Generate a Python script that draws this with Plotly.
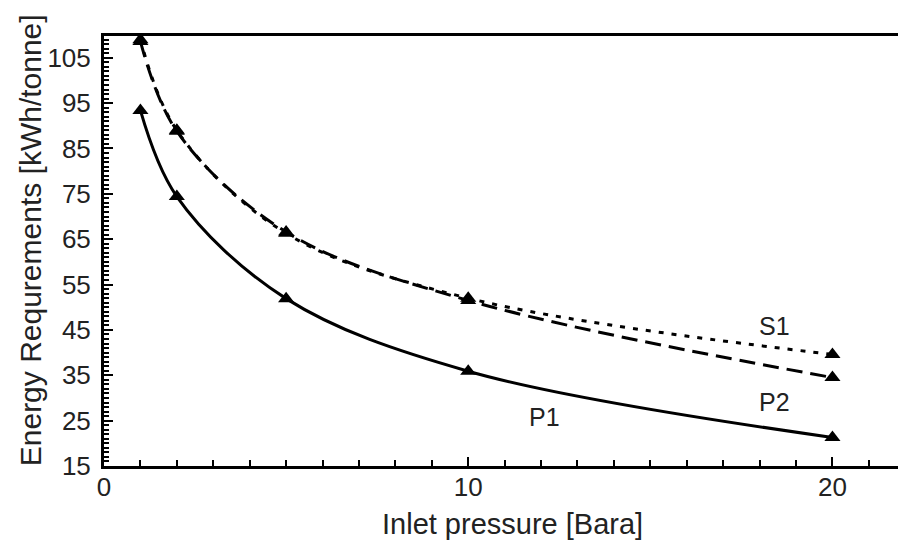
import plotly.graph_objects as go

pressure = [1, 2, 5, 10, 20]
s1 = [109.0, 89.0, 66.3, 52.0, 39.6]
p2 = [108.6, 88.8, 66.6, 51.5, 34.5]
p1 = [93.4, 74.4, 51.9, 35.9, 21.3]

labels = ["S1", "P2", "P1"]
label_x = [18.4, 18.4, 12.1]
label_y = [45.8, 29.2, 25.7]

x_title = "Inlet pressure [Bara]"
y_title = "Energy Requrements [kWh/tonne]"

font_family = "Liberation Sans, Arial, Helvetica, sans-serif"
txt = "#222222"

fig = go.Figure()
fig.add_trace(go.Scatter(x=pressure, y=s1, mode="lines+markers", name="S1",
                         line=dict(color="black", width=3, shape="spline", smoothing=1.0, dash="5px,8px"),
                         marker=dict(symbol="triangle-up", size=14, color="black")))
fig.add_trace(go.Scatter(x=pressure, y=p2, mode="lines+markers", name="P2",
                         line=dict(color="black", width=3, shape="spline", smoothing=1.0, dash="16px,8px"),
                         marker=dict(symbol="triangle-up", size=14, color="black")))
fig.add_trace(go.Scatter(x=pressure, y=p1, mode="lines+markers", name="P1",
                         line=dict(color="black", width=3, shape="spline", smoothing=1.0),
                         marker=dict(symbol="triangle-up", size=14, color="black")))

for t, x, y in zip(labels, label_x, label_y):
    fig.add_annotation(x=x, y=y, text=t, showarrow=False,
                       font=dict(size=25, color=txt, family=font_family))

# axis titles placed as annotations (relative to the plot area)
fig.add_annotation(xref="paper", yref="paper", x=0.515, y=0, yshift=-58,
                   xanchor="center", yanchor="middle", showarrow=False,
                   text=x_title, font=dict(size=29, color=txt, family=font_family))
fig.add_annotation(xref="paper", yref="paper", x=0, xshift=-74, y=0.525,
                   xanchor="center", yanchor="middle", showarrow=False, textangle=-90,
                   text=y_title, font=dict(size=30, color=txt, family=font_family))

fig.update_layout(
    width=898, height=543,
    margin=dict(l=104, r=0, t=36, b=77),
    paper_bgcolor="white", plot_bgcolor="white",
    showlegend=False,
    font=dict(family=font_family, color=txt, size=24),
)
fig.update_xaxes(
    range=[0, 21.8], showgrid=False, zeroline=False,
    showline=True, linewidth=3, linecolor="black", mirror=True,
    ticks="inside", tick0=0, dtick=10, ticklen=9, tickwidth=1.5, tickcolor="black",
    minor=dict(dtick=1, ticks="inside", ticklen=6, tickwidth=1.5, tickcolor="black", showgrid=False),
    tickfont=dict(size=26, color=txt), ticklabelstandoff=-4,
)
fig.update_yaxes(
    range=[15, 109.8], showgrid=False, zeroline=False,
    showline=True, linewidth=3, linecolor="black",
    ticks="inside", tick0=15, dtick=10, ticklen=9, tickwidth=1.5, tickcolor="black",
    minor=dict(dtick=1, ticks="inside", ticklen=5, tickwidth=1.5, tickcolor="black", showgrid=False),
    tickfont=dict(size=26, color=txt), ticklabelstandoff=5,
)

fig.write_html("out.html")
